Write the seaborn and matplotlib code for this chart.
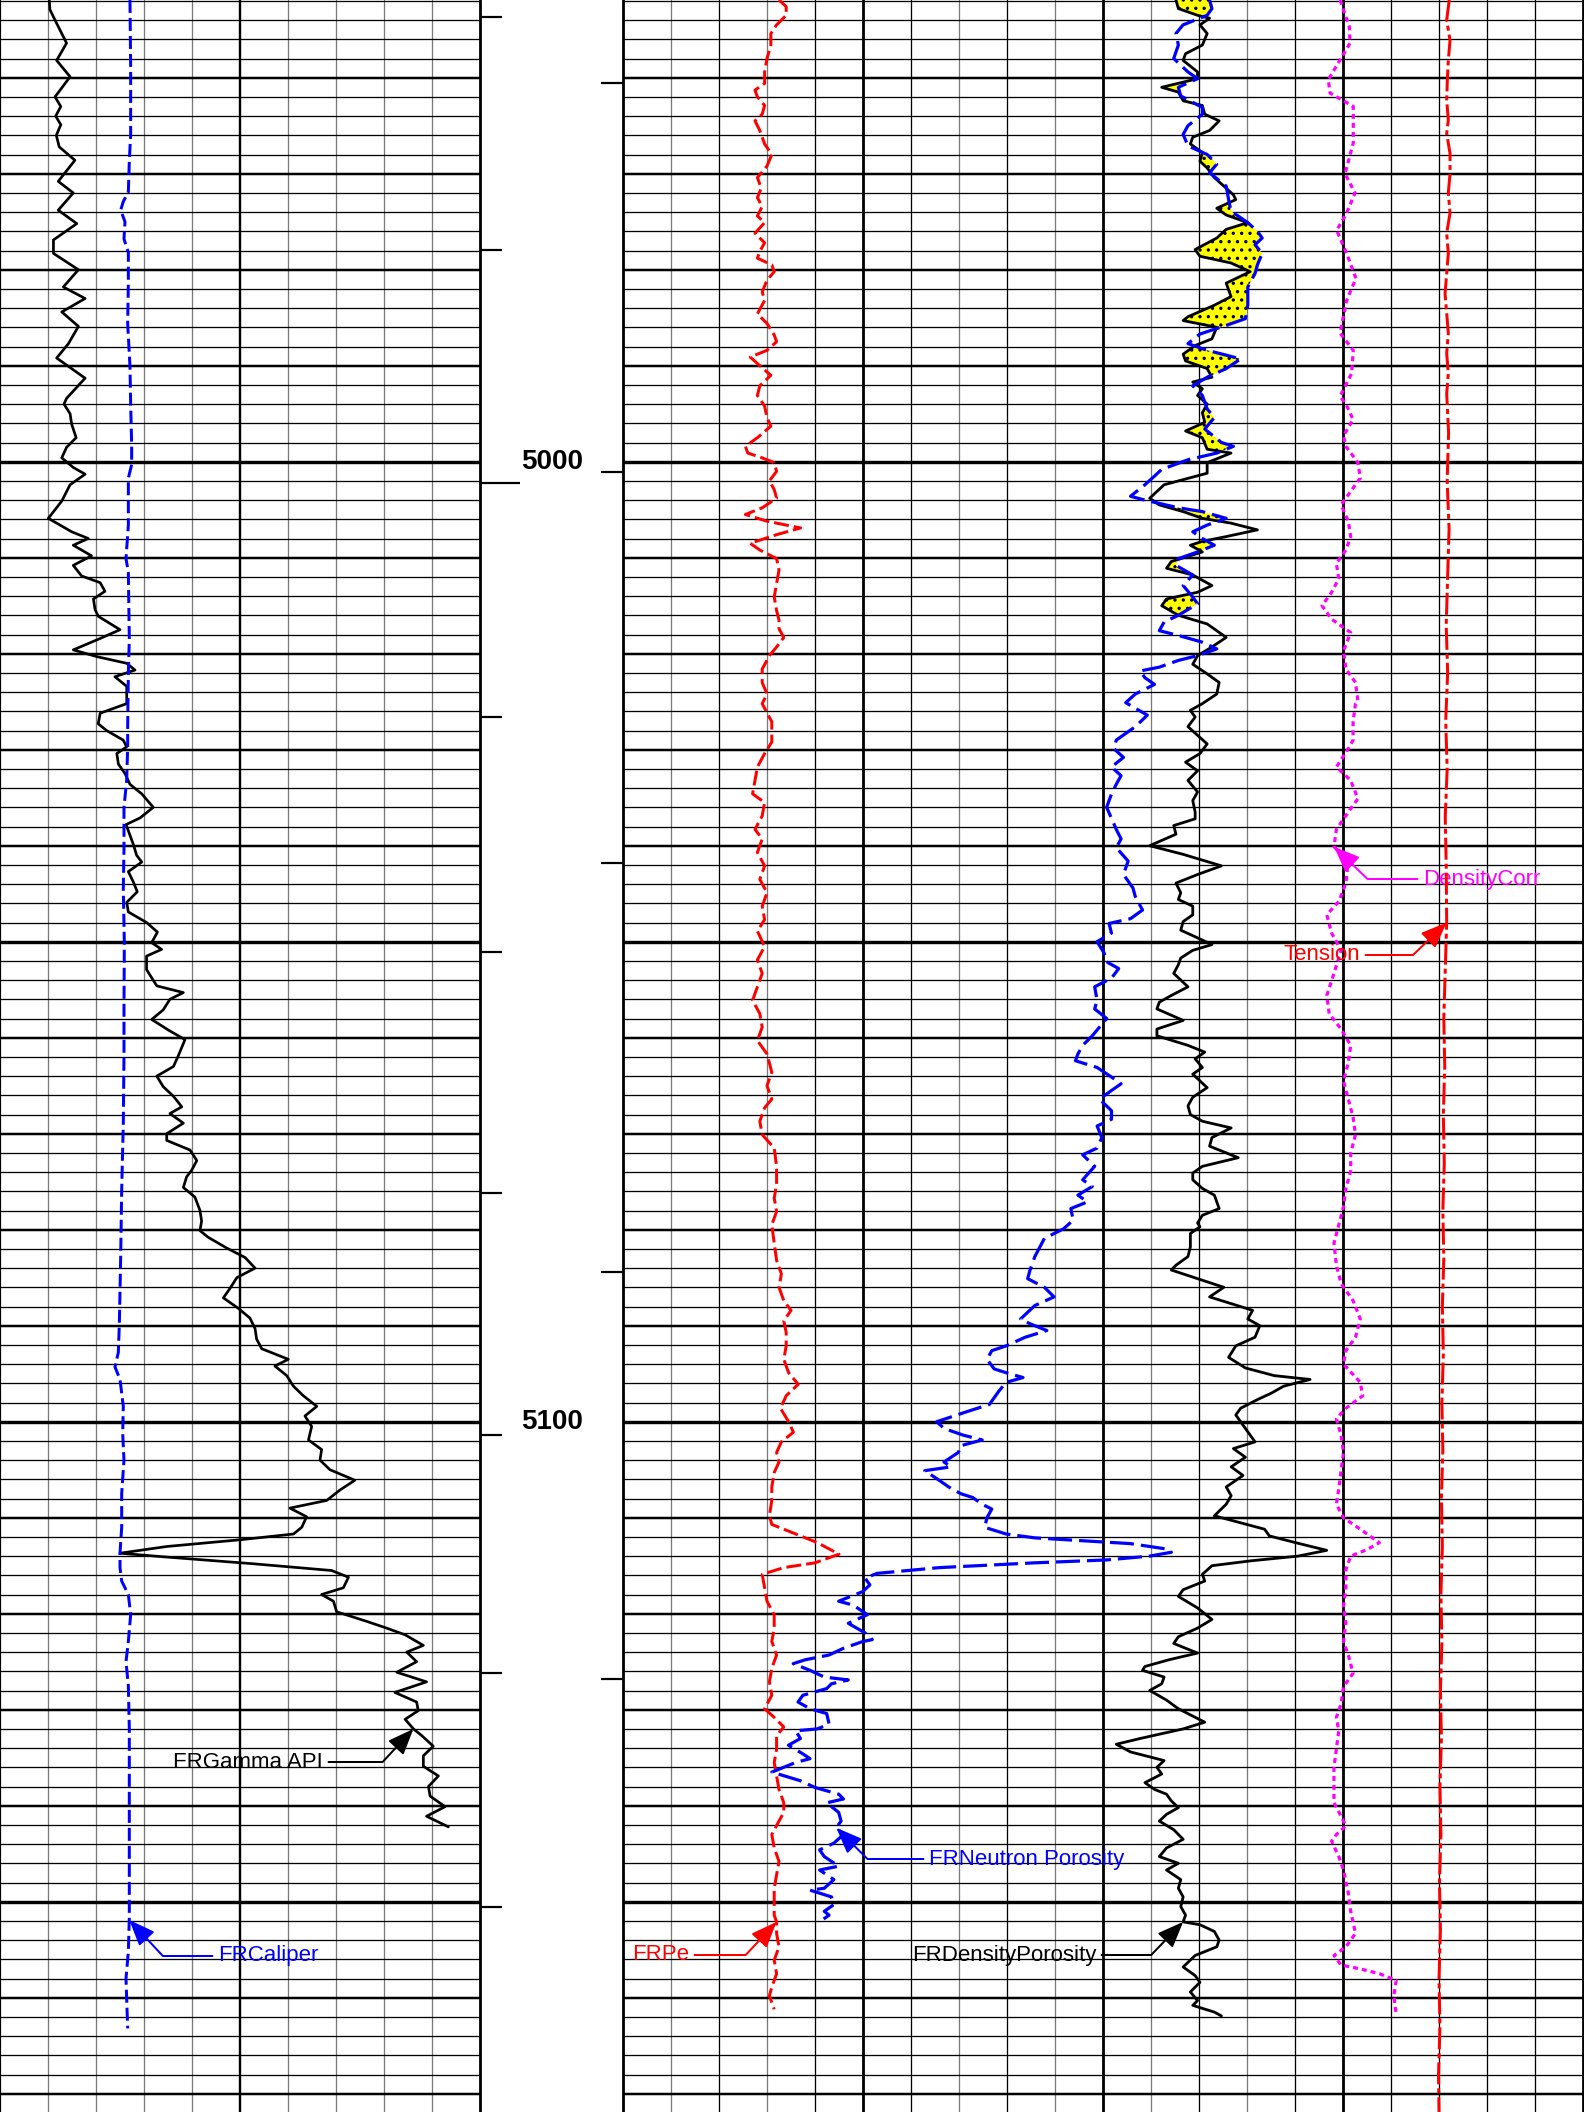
import numpy as np
import matplotlib
matplotlib.use("Agg")
import matplotlib.pyplot as plt
import seaborn as sns

plt.rcParams["font.family"] = ["Liberation Sans", "DejaVu Sans"]
plt.rcParams["lines.scale_dashes"] = False
plt.rcParams["lines.solid_joinstyle"] = "round"
plt.rcParams["lines.solid_capstyle"] = "round"
plt.rcParams["hatch.color"] = "black"
plt.rcParams["hatch.linewidth"] = 1.2

W, H, DPI = 1584, 2112, 100
PX = 72.0 / DPI                      # points per pixel
TOP, BOTTOM = 4951.906, 5171.906     # depth window (ft)

BLUE, RED, MAGENTA, YELLOW = "#0000FF", "#FF0000", "#FF00FF", "#FFFF00"

# ---------------------------------------------------------------- depth track
depth_labels = [5000, 5100]
left_marks = [4953.71, 4977.95, 5026.55, 5051.1, 5076.2, 5101.39, 5126.21, 5150.6]
long_marks = [5002.19]
right_marks = [4960.52, 5001.04, 5041.84, 5084.37, 5126.83]

# ---------------------------------------------------------------- gamma ray (API)
gr_depth = [4951.9, 4952.9, 4954.0, 4956.4, 4958.2, 4959.9, 4962.0, 4963.0, 4964.0, 4964.9,
            4966.0, 4967.2, 4968.6, 4970.8, 4972.0, 4973.8, 4975.2, 4976.9, 4978.3, 4980.0,
            4981.8, 4983.0, 4984.4, 4985.9, 4987.7, 4989.2, 4991.3, 4993.4, 4994.0, 4995.0,
            4996.1, 4997.5, 4998.5, 4999.6, 5000.6, 5001.3, 5002.4, 5004.1, 5005.9, 5007.3,
            5008.0, 5008.7, 5009.8, 5010.8, 5011.9, 5012.6, 5013.5, 5014.3, 5015.4, 5016.1,
            5017.5, 5018.5, 5019.6, 5020.3, 5021.0, 5021.7, 5022.4, 5023.4, 5025.2, 5026.2,
            5027.3, 5028.0, 5029.0, 5029.7, 5030.4, 5031.5, 5032.5, 5033.6, 5034.6, 5036.0,
            5037.1, 5037.8, 5038.9, 5039.9, 5041.0, 5041.7, 5042.7, 5043.8, 5044.8, 5045.9,
            5046.9, 5048.0, 5049.0, 5050.1, 5050.8, 5051.5, 5052.9, 5053.6, 5054.6, 5055.3,
            5056.0, 5057.1, 5058.1, 5059.2, 5060.2, 5061.0, 5061.9, 5063.0, 5064.0, 5065.1,
            5066.1, 5067.2, 5067.9, 5068.9, 5070.0, 5070.7, 5071.7, 5072.8, 5073.8, 5074.5,
            5075.6, 5076.6, 5078.0, 5079.1, 5080.1, 5080.8, 5081.9, 5082.9, 5084.0, 5085.0,
            5086.1, 5087.1, 5088.2, 5089.2, 5090.3, 5091.4, 5092.4, 5093.5, 5094.2, 5095.2,
            5096.3, 5097.3, 5098.4, 5099.4, 5100.5, 5101.9, 5102.9, 5104.0, 5105.0, 5106.1,
            5107.1, 5108.2, 5109.0, 5109.9, 5111.0, 5111.7, 5112.3, 5113.0, 5113.7, 5114.1,
            5114.8, 5115.5, 5116.2, 5117.3, 5118.0, 5118.7, 5119.8, 5120.8, 5121.5, 5122.2,
            5123.3, 5124.0, 5125.0, 5126.1, 5127.1, 5128.2, 5129.2, 5130.1, 5131.0, 5132.0,
            5132.7, 5133.8, 5134.8, 5135.9, 5136.9, 5138.0, 5139.0, 5140.1, 5141.1, 5142.2]
gr_api = [15.4, 15.6, 17.2, 20.8, 17.7, 21.9, 17.2, 19.0, 17.4, 19.0,
          17.6, 18.5, 23.4, 18.2, 22.9, 18.2, 24.0, 16.7, 16.7, 24.5,
          19.8, 26.6, 19.3, 24.5, 21.4, 17.7, 26.6, 20.8, 20.0, 21.9,
          22.4, 23.8, 20.8, 19.3, 22.9, 26.6, 21.9, 19.3, 15.1, 22.4,
          27.6, 22.9, 28.6, 22.9, 25.5, 31.3, 32.8, 29.2, 29.7, 30.7,
          37.5, 30.7, 22.9, 30.2, 39.6, 42.2, 35.9, 39.6, 39.6, 31.3,
          30.7, 33.3, 38.5, 39.6, 36.5, 37.0, 39.1, 40.6, 44.3, 47.9,
          43.8, 39.4, 40.6, 41.7, 42.7, 44.3, 40.1, 41.7, 42.9, 39.6,
          40.1, 45.8, 49.2, 47.4, 50.5, 45.8, 45.8, 47.1, 49.0, 57.3,
          53.1, 51.0, 47.4, 52.6, 57.8, 56.8, 55.7, 54.2, 49.0, 51.0,
          54.2, 56.8, 53.1, 57.3, 52.1, 52.1, 59.4, 61.5, 59.9, 58.3,
          57.3, 60.9, 62.5, 63.0, 62.5, 65.1, 70.8, 76.6, 79.7, 74.0,
          71.9, 69.8, 74.5, 78.1, 79.7, 80.2, 81.8, 90.1, 85.9, 89.6,
          91.7, 94.8, 99.0, 95.3, 97.4, 96.4, 100.5, 100.0, 103.1, 110.9,
          106.3, 102.1, 90.6, 95.8, 94.3, 91.7, 75.0, 52.1, 37.5, 52.1,
          79.2, 103.6, 108.9, 107.3, 100.5, 104.2, 105.2, 114.6, 120.8, 126.6,
          132.3, 127.1, 130.2, 124.0, 133.3, 123.4, 130.2, 130.7, 126.6, 129.2,
          131.8, 135.4, 132.3, 132.3, 137.0, 133.9, 134.4, 139.1, 133.3, 140.1]

# ---------------------------------------------------------------- caliper (in)
cal_depth = [4951.9, 4958.9, 4965.9, 4968.7, 4971.9, 4972.9, 4973.8, 4975.0, 4976.8, 4978.2,
             4981.4, 4985.6, 4990.1, 4994.0, 4998.2, 5000.3, 5001.7, 5006.6, 5010.1, 5011.5,
             5018.5, 5022.0, 5027.6, 5029.7, 5033.2, 5036.0, 5040.3, 5044.5, 5050.1, 5057.1,
             5061.9, 5068.9, 5075.9, 5082.9, 5089.9, 5092.8, 5094.3, 5095.6, 5098.4, 5101.2,
             5104.0, 5107.5, 5111.0, 5113.7, 5115.2, 5116.6, 5118.0, 5120.1, 5122.9, 5125.0,
             5127.5, 5132.0, 5139.0, 5146.1, 5151.7, 5155.2, 5158.0, 5160.1, 5163.2]
cal_in = [8.708, 8.722, 8.722, 8.694, 8.674, 8.569, 8.514, 8.604, 8.583, 8.674,
          8.674, 8.660, 8.708, 8.722, 8.743, 8.743, 8.674, 8.674, 8.625, 8.674,
          8.694, 8.674, 8.660, 8.660, 8.639, 8.583, 8.583, 8.569, 8.590, 8.583,
          8.583, 8.569, 8.535, 8.514, 8.486, 8.465, 8.396, 8.500, 8.569, 8.556,
          8.583, 8.535, 8.535, 8.500, 8.500, 8.535, 8.674, 8.722, 8.674, 8.625,
          8.674, 8.694, 8.694, 8.694, 8.694, 8.674, 8.625, 8.639, 8.660]

# ---------------------------------------------------------------- neutron porosity (%)
nph_depth = [4951.9, 4952.8, 4953.5, 4954.5, 4955.4, 4956.6, 4958.0, 4959.4, 4960.1, 4961.0,
             4961.9, 4963.1, 4963.8, 4965.0, 4965.9, 4967.1, 4968.0, 4969.0, 4969.9, 4971.3,
             4972.7, 4973.9, 4975.1, 4976.0, 4976.7, 4977.4, 4978.3, 4979.5, 4980.4, 4981.8,
             4983.7, 4985.1, 4985.8, 4986.7, 4987.7, 4988.4, 4988.9, 4989.3, 4990.3, 4991.2,
             4992.1, 4993.1, 4994.5, 4995.4, 4996.6, 4998.0, 4998.4, 4999.1, 4999.8, 5000.8,
             5001.5, 5002.4, 5003.6, 5004.0, 5004.8, 5005.2, 5005.9, 5006.6, 5007.3, 5008.0,
             5008.7, 5009.4, 5010.1, 5010.8, 5011.8, 5012.9, 5014.1, 5014.8, 5016.0, 5016.7,
             5017.6, 5018.1, 5018.8, 5019.5, 5020.2, 5020.7, 5021.4, 5021.8, 5022.5, 5023.2,
             5024.2, 5025.1, 5026.4, 5027.6, 5029.0, 5029.9, 5030.8, 5031.8, 5032.7, 5033.6,
             5034.6, 5036.0, 5038.3, 5039.3, 5040.2, 5041.6, 5043.0, 5044.4, 5045.3, 5046.7,
             5047.6, 5048.1, 5049.1, 5050.0, 5051.2, 5052.1, 5052.8, 5053.8, 5054.7, 5056.1,
             5057.0, 5058.0, 5058.9, 5059.8, 5060.8, 5061.7, 5062.4, 5063.1, 5064.1, 5064.8,
             5065.5, 5066.4, 5067.6, 5068.5, 5069.2, 5070.4, 5071.5, 5072.2, 5073.4, 5074.8,
             5075.5, 5076.4, 5077.1, 5077.8, 5079.0, 5079.9, 5080.9, 5082.8, 5084.2, 5085.1,
             5086.0, 5087.0, 5087.9, 5089.3, 5089.8, 5090.5, 5091.2, 5092.1, 5092.6, 5093.5,
             5094.5, 5094.9, 5095.4, 5095.9, 5096.8, 5098.2, 5099.0, 5100.0, 5100.7, 5101.4,
             5101.9, 5102.5, 5103.2, 5104.2, 5104.7, 5105.1, 5106.1, 5106.8, 5107.5, 5107.9,
             5108.6, 5109.1, 5110.0, 5111.0, 5111.7, 5112.1, 5112.4, 5112.7, 5113.3, 5113.6,
             5114.0, 5114.4, 5114.7, 5115.2, 5115.8, 5116.3, 5117.0, 5117.7, 5118.7, 5119.1,
             5120.1, 5121.0, 5122.0, 5122.7, 5122.9, 5123.6, 5124.3, 5124.8, 5125.2, 5125.9,
             5126.6, 5126.9, 5127.3, 5127.8, 5128.5, 5129.2, 5129.9, 5130.4, 5131.5, 5132.0,
             5132.2, 5133.0, 5133.7, 5134.6, 5135.1, 5135.5, 5136.5, 5137.4, 5138.1, 5138.8,
             5139.3, 5139.7, 5140.7, 5141.6, 5142.3, 5143.0, 5143.9, 5144.6, 5145.3, 5146.3,
             5146.7, 5147.7, 5148.6, 5148.8, 5149.5, 5150.3, 5151.0, 5151.4, 5152.1]
nph_pct = [8.34, 8.19, 8.49, 10.00, 10.44, 10.29, 10.58, 9.69, 9.09, 10.29,
           10.14, 8.79, 8.79, 9.69, 9.99, 9.69, 8.49, 7.89, 8.34, 7.30,
           7.15, 7.00, 5.95, 5.35, 5.05, 5.50, 5.05, 5.35, 5.50, 5.95,
           5.95, 6.10, 7.30, 8.94, 9.69, 8.49, 7.30, 6.40, 7.30, 8.49,
           9.39, 8.79, 8.49, 8.04, 8.64, 7.60, 6.85, 7.89, 9.69, 11.33,
           11.78, 12.38, 13.28, 12.38, 10.29, 8.79, 7.30, 8.49, 9.39, 8.79,
           8.04, 9.09, 10.29, 10.44, 9.39, 9.99, 9.39, 9.09, 10.29, 11.18,
           11.48, 10.29, 8.79, 7.89, 9.09, 10.29, 11.48, 12.68, 12.38, 11.78,
           12.98, 13.58, 12.23, 12.98, 14.17, 14.32, 13.72, 14.47, 13.87, 14.17,
           14.47, 14.77, 14.17, 13.87, 14.17, 13.43, 13.72, 13.13, 12.98, 12.53,
           13.28, 14.62, 14.47, 15.37, 14.92, 14.77, 14.02, 14.47, 15.52, 15.37,
           15.52, 14.77, 15.22, 15.67, 16.27, 16.57, 16.72, 15.37, 14.47, 13.87,
           14.47, 15.22, 14.47, 14.47, 15.37, 15.07, 15.37, 16.27, 15.52, 16.27,
           15.67, 16.57, 15.97, 17.01, 16.86, 17.46, 18.66, 19.26, 19.56, 19.71,
           18.66, 18.06, 19.26, 20.15, 19.56, 18.51, 19.86, 21.05, 21.95, 22.25,
           21.80, 21.05, 20.00, 21.05, 21.50, 22.10, 23.59, 25.39, 24.94, 23.74,
           22.55, 23.89, 24.04, 24.94, 24.49, 26.14, 25.24, 24.64, 23.89, 23.14,
           22.55, 21.95, 22.25, 22.40, 21.05, 19.26, 16.27, 13.28, 10.88, 10.73,
           12.08, 14.77, 19.26, 25.24, 29.13, 29.87, 29.57, 30.02, 31.52, 30.62,
           29.72, 30.92, 29.87, 29.42, 30.02, 31.22, 32.12, 33.61, 34.36, 33.31,
           32.42, 30.92, 31.97, 32.27, 33.76, 34.06, 33.31, 32.27, 32.12, 32.86,
           34.21, 33.91, 34.66, 33.76, 33.31, 34.21, 35.70, 33.91, 33.01, 31.52,
           31.22, 32.27, 31.52, 31.37, 31.67, 31.22, 31.82, 32.71, 32.42, 31.52,
           32.71, 31.82, 32.42, 33.31, 31.97, 31.82, 32.42, 32.12, 32.71]

# ---------------------------------------------------------------- density porosity (%)
dph_depth = [4951.9, 4952.8, 4953.5, 4953.8, 4954.5, 4955.4, 4956.6, 4957.5, 4958.2, 4959.4,
             4960.1, 4961.0, 4961.5, 4962.4, 4962.9, 4963.8, 4964.5, 4965.5, 4966.2, 4966.9,
             4967.8, 4968.7, 4969.4, 4970.4, 4971.3, 4972.2, 4972.7, 4973.6, 4974.3, 4975.1,
             4975.8, 4976.7, 4977.9, 4978.6, 4979.3, 4980.2, 4981.4, 4982.8, 4983.7, 4984.9,
             4985.3, 4986.0, 4987.2, 4987.9, 4988.8, 4989.5, 4990.3, 4991.2, 4991.7, 4992.4,
             4993.1, 4994.0, 4994.9, 4995.9, 4996.8, 4997.5, 4998.7, 4999.1, 5000.1, 5001.2,
             5002.4, 5003.8, 5004.5, 5005.2, 5005.9, 5006.4, 5007.1, 5007.8, 5008.3, 5008.7,
             5009.4, 5010.4, 5011.1, 5011.8, 5012.9, 5013.6, 5014.3, 5015.0, 5016.0, 5016.9,
             5018.3, 5019.3, 5020.2, 5021.1, 5022.1, 5023.0, 5024.2, 5025.2, 5025.9, 5026.6,
             5027.6, 5028.5, 5029.4, 5030.4, 5031.3, 5032.2, 5033.2, 5034.4, 5035.3, 5036.5,
             5037.2, 5037.9, 5038.8, 5040.0, 5040.9, 5042.1, 5043.0, 5043.9, 5044.9, 5045.6,
             5046.3, 5047.2, 5047.9, 5048.8, 5049.6, 5050.3, 5050.9, 5051.7, 5052.4, 5053.3,
             5054.7, 5055.6, 5056.3, 5057.0, 5058.2, 5059.1, 5059.8, 5060.8, 5061.5, 5062.2,
             5063.1, 5063.8, 5065.2, 5066.2, 5067.1, 5068.0, 5068.7, 5069.4, 5070.4, 5071.3,
             5072.5, 5073.4, 5074.1, 5074.8, 5075.7, 5076.4, 5077.8, 5078.5, 5079.3, 5079.7,
             5080.4, 5081.8, 5082.8, 5083.7, 5084.2, 5085.1, 5086.0, 5087.0, 5087.7, 5088.4,
             5089.3, 5090.0, 5091.2, 5092.1, 5093.3, 5094.4, 5095.2, 5095.6, 5096.3, 5097.0,
             5097.7, 5098.6, 5099.3, 5100.7, 5102.1, 5102.8, 5103.7, 5104.7, 5105.6, 5106.8,
             5107.7, 5108.6, 5109.8, 5111.2, 5111.9, 5112.6, 5113.4, 5114.0, 5114.5, 5115.0,
             5115.9, 5116.6, 5117.5, 5118.2, 5119.4, 5120.6, 5121.5, 5122.4, 5123.1, 5124.1,
             5124.8, 5125.5, 5125.9, 5126.6, 5127.3, 5128.0, 5129.0, 5129.9, 5131.3, 5132.0,
             5133.0, 5133.6, 5134.4, 5135.3, 5136.0, 5136.7, 5137.6, 5138.3, 5138.8, 5139.5,
             5140.2, 5140.9, 5141.6, 5142.5, 5143.5, 5144.4, 5145.3, 5146.0, 5146.7, 5147.7,
             5148.6, 5149.5, 5150.5, 5151.4, 5152.1, 5152.4, 5153.1, 5154.0, 5154.7, 5155.6,
             5156.8, 5157.7, 5158.4, 5159.4, 5160.3, 5160.8, 5161.5, 5161.9]
dph_pct = [10.44, 10.29, 9.09, 8.34, 8.94, 8.49, 8.79, 9.84, 9.99, 9.09,
           9.09, 11.33, 10.29, 9.99, 8.79, 8.64, 7.74, 8.34, 9.39, 9.54,
           8.79, 8.94, 8.49, 8.04, 7.45, 6.85, 6.70, 7.89, 7.30, 5.95,
           7.30, 7.89, 9.24, 8.94, 7.00, 5.80, 7.30, 7.00, 8.04, 9.69,
           9.99, 7.89, 8.19, 9.24, 9.99, 9.84, 8.49, 8.19, 9.39, 8.79,
           9.09, 8.49, 8.79, 8.64, 9.84, 8.79, 8.49, 7.00, 8.49, 8.49,
           11.18, 12.08, 11.48, 9.99, 8.79, 7.00, 5.35, 7.30, 8.79, 9.54,
           8.79, 10.73, 11.03, 9.39, 8.19, 9.09, 11.03, 11.33, 10.29, 8.49,
           7.30, 8.19, 9.09, 9.39, 8.49, 7.74, 7.89, 8.79, 9.54, 9.24,
           9.69, 9.09, 8.49, 8.94, 9.84, 9.09, 9.69, 9.09, 9.39, 9.24,
           9.24, 10.58, 10.44, 12.08, 9.99, 7.60, 9.09, 10.44, 10.14, 10.29,
           9.39, 9.39, 9.99, 10.14, 9.09, 8.19, 9.39, 10.14, 10.29, 10.58,
           9.69, 10.73, 11.48, 11.63, 9.99, 11.63, 11.63, 9.69, 8.64, 9.24,
           8.79, 9.39, 8.49, 9.39, 9.69, 9.54, 8.79, 6.99, 8.19, 8.34,
           6.55, 8.79, 9.39, 9.39, 8.79, 8.04, 7.74, 8.79, 9.09, 8.94,
           9.54, 9.54, 9.69, 10.44, 10.73, 9.09, 7.45, 8.34, 6.99, 5.65,
           5.95, 5.20, 5.50, 6.70, 7.15, 6.10, 4.30, 2.06, 3.71, 4.45,
           5.35, 6.40, 6.70, 6.10, 5.50, 6.85, 6.10, 6.99, 6.25, 7.30,
           6.99, 7.30, 8.04, 4.90, 4.60, 2.96, 1.02, 2.81, 5.80, 8.19,
           8.79, 8.64, 9.99, 10.29, 9.09, 8.19, 9.09, 10.29, 10.58, 9.09,
           10.88, 12.38, 12.53, 11.18, 11.33, 12.08, 11.03, 10.29, 8.64, 9.99,
           12.68, 14.17, 13.28, 11.18, 11.63, 11.33, 12.38, 11.78, 11.03, 10.73,
           10.29, 11.03, 11.48, 10.58, 9.99, 11.03, 11.48, 10.29, 11.03, 10.14,
           10.29, 9.99, 10.14, 9.84, 9.99, 8.94, 8.04, 7.74, 7.89, 9.24,
           9.99, 9.24, 8.94, 9.54, 9.09, 9.39, 8.04, 7.60]

# ---------------------------------------------------------------- photoelectric factor (b/e)
pe_depth = [4951.9, 4952.6, 4953.5, 4954.5, 4955.4, 4956.6, 4958.0, 4959.4, 4960.6, 4961.3,
            4962.0, 4962.9, 4963.8, 4964.5, 4965.5, 4966.9, 4968.0, 4969.2, 4970.4, 4971.5,
            4972.5, 4973.4, 4974.4, 4975.1, 4976.2, 4977.2, 4978.1, 4978.8, 4979.5, 4980.2,
            4981.1, 4982.3, 4983.2, 4984.6, 4985.6, 4986.8, 4987.5, 4988.4, 4989.1, 4990.0,
            4991.0, 4992.1, 4993.1, 4994.2, 4995.4, 4996.3, 4997.5, 4998.4, 4999.1, 4999.6,
            5000.1, 5001.0, 5002.0, 5002.9, 5003.8, 5004.8, 5005.5, 5006.2, 5006.9, 5007.6,
            5008.5, 5009.2, 5010.1, 5011.3, 5012.7, 5014.1, 5015.5, 5016.5, 5017.4, 5018.3,
            5019.3, 5020.2, 5021.6, 5023.0, 5024.2, 5025.2, 5027.1, 5029.2, 5030.4, 5031.8,
            5033.2, 5034.6, 5035.5, 5036.9, 5038.3, 5039.3, 5040.7, 5042.1, 5043.5, 5044.9,
            5046.3, 5047.7, 5048.9, 5050.5, 5051.9, 5053.3, 5054.7, 5056.1, 5057.5, 5058.9,
            5060.3, 5061.7, 5063.6, 5065.0, 5066.4, 5067.3, 5068.7, 5070.1, 5071.5, 5073.4,
            5075.3, 5076.7, 5078.1, 5079.5, 5081.4, 5083.2, 5084.6, 5086.0, 5087.4, 5088.4,
            5089.5, 5090.7, 5092.1, 5093.5, 5094.9, 5096.1, 5097.3, 5098.6, 5100.0, 5101.1,
            5102.1, 5103.2, 5104.2, 5105.3, 5106.8, 5108.2, 5109.8, 5110.7, 5111.7, 5112.6,
            5113.8, 5114.7, 5115.2, 5115.9, 5117.3, 5118.7, 5120.1, 5121.5, 5122.9, 5124.3,
            5125.7, 5127.1, 5128.5, 5129.9, 5130.8, 5131.8, 5132.7, 5134.1, 5135.5, 5136.9,
            5138.3, 5139.7, 5140.7, 5141.6, 5143.0, 5144.4, 5145.8, 5147.2, 5148.6, 5150.0,
            5151.4, 5152.1, 5153.3, 5154.7, 5156.1, 5157.5, 5158.9, 5159.8, 5161.2]
pe_val = [3.25, 3.40, 3.40, 3.20, 3.08, 3.08, 3.00, 2.95, 2.95, 2.75,
          2.80, 2.95, 2.90, 2.75, 2.85, 2.95, 3.10, 3.00, 2.80, 2.88,
          2.80, 2.90, 2.80, 2.95, 2.75, 2.95, 2.85, 2.80, 3.10, 3.15,
          3.00, 2.90, 2.95, 2.80, 3.00, 3.15, 3.20, 3.00, 2.65, 2.85,
          3.08, 2.85, 2.80, 2.95, 3.00, 3.08, 2.80, 2.55, 2.60, 2.90,
          3.15, 3.20, 3.05, 3.15, 3.20, 2.90, 2.55, 3.00, 3.70, 3.20,
          2.65, 2.85, 3.20, 3.25, 3.20, 3.15, 3.20, 3.25, 3.25, 3.35,
          3.20, 3.05, 2.90, 2.90, 3.00, 2.90, 3.10, 3.10, 2.95, 2.80,
          2.75, 2.70, 2.95, 2.90, 2.75, 2.90, 2.80, 2.95, 2.85, 3.00,
          2.90, 2.95, 2.80, 2.95, 2.80, 2.90, 2.80, 2.70, 2.85, 2.90,
          2.80, 3.00, 3.10, 3.00, 3.10, 2.95, 2.85, 2.90, 3.15, 3.20,
          3.20, 3.15, 3.20, 3.10, 3.15, 3.20, 3.30, 3.25, 3.35, 3.50,
          3.35, 3.40, 3.40, 3.35, 3.45, 3.65, 3.40, 3.28, 3.45, 3.55,
          3.30, 3.20, 3.25, 3.15, 3.10, 3.10, 3.05, 3.10, 3.60, 4.05,
          4.50, 4.00, 3.35, 2.90, 2.95, 3.00, 3.15, 3.15, 3.10, 3.20,
          3.10, 3.05, 3.10, 2.95, 3.15, 3.35, 3.20, 3.20, 3.15, 3.20,
          3.25, 3.35, 3.35, 3.25, 3.10, 3.15, 3.25, 3.20, 3.15, 3.15,
          3.15, 3.20, 3.20, 3.25, 3.15, 3.20, 3.10, 3.05, 3.15]

# ---------------------------------------------------------------- density correction (g/cc)
drho_depth = [4951.9, 4954.7, 4956.4, 4960.2, 4961.6, 4963.0, 4966.8, 4970.0, 4972.0, 4974.1,
              4975.9, 4978.3, 4980.9, 4983.2, 4986.6, 4988.4, 4990.8, 4993.2, 4994.0, 4995.6,
              4997.3, 4998.4, 5000.1, 5001.7, 5003.1, 5004.5, 5006.2, 5007.8, 5009.2, 5010.6,
              5012.2, 5013.6, 5015.0, 5016.4, 5017.8, 5019.7, 5021.6, 5023.0, 5024.9, 5025.2,
              5027.1, 5029.0, 5029.9, 5031.8, 5033.2, 5035.1, 5036.5, 5038.3, 5040.1, 5041.6,
              5043.9, 5045.8, 5047.2, 5049.1, 5050.9, 5053.3, 5055.6, 5057.5, 5059.1, 5060.8,
              5062.6, 5064.5, 5066.4, 5068.3, 5070.1, 5072.0, 5073.9, 5075.7, 5077.6, 5079.5,
              5081.4, 5083.7, 5085.6, 5087.4, 5089.3, 5091.2, 5092.6, 5094.0, 5095.9, 5097.3,
              5098.6, 5099.7, 5101.4, 5103.2, 5105.1, 5107.0, 5108.6, 5110.0, 5111.2, 5112.6,
              5113.3, 5114.0, 5115.4, 5117.3, 5119.2, 5121.0, 5122.9, 5124.3, 5126.2, 5127.6,
              5129.4, 5130.8, 5132.2, 5134.1, 5136.0, 5137.9, 5139.7, 5141.1, 5142.1, 5143.0,
              5143.7, 5145.3, 5146.7, 5149.1, 5151.0, 5153.3, 5154.7, 5155.6, 5156.6, 5157.0,
              5157.5, 5158.2, 5159.8, 5161.7]
drho_val = [-0.0031, 0.0066, 0.0073, -0.0153, -0.0135, 0.0107, 0.0107, 0.0021, 0.0125, 0.0038,
            -0.0066, 0.0038, 0.0135, 0.0038, -0.0031, 0.0107, 0.0090, -0.0031, 0.0030, 0.0105,
            0.0005, 0.0030, 0.0155, 0.0180, 0.0080, -0.0020, 0.0055, 0.0080, 0.0030, -0.0069,
            -0.0044, -0.0119, -0.0219, -0.0119, 0.0080, 0.0005, 0.0030, 0.0130, 0.0155, 0.0130,
            0.0105, 0.0105, 0.0055, -0.0069, 0.0080, 0.0155, 0.0055, -0.0069, -0.0094, 0.0055,
            0.0030, -0.0044, -0.0169, -0.0119, -0.0020, -0.0094, -0.0169, -0.0144, -0.0020, 0.0080,
            0.0055, 0.0005, 0.0055, 0.0105, 0.0130, 0.0080, 0.0080, 0.0030, 0.0005, -0.0044,
            -0.0094, -0.0069, -0.0020, 0.0105, 0.0180, 0.0130, 0.0030, 0.0005, 0.0180, 0.0205,
            0.0030, -0.0069, -0.0020, 0.0005, -0.0020, -0.0044, -0.0069, 0.0005, 0.0180, 0.0379,
            0.0255, 0.0080, 0.0030, 0.0030, 0.0005, 0.0030, 0.0005, 0.0055, 0.0105, 0.0005,
            -0.0020, -0.0069, -0.0044, -0.0069, -0.0094, -0.0094, -0.0094, -0.0020, 0.0030, -0.0069,
            -0.0119, -0.0044, 0.0005, 0.0055, 0.0080, 0.0130, 0.0030, -0.0094, -0.0020, 0.0180,
            0.0379, 0.0554, 0.0529, 0.0554]

# ---------------------------------------------------------------- cable tension (lbf)
ten_depth = [4951.9, 4954.0, 4956.1, 4958.2, 4960.2, 4962.3, 4964.4, 4965.8, 4967.9, 4970.0,
             4972.0, 4974.1, 4976.2, 4978.3, 4980.4, 4982.5, 4984.5, 4986.6, 4988.7, 4990.8,
             4992.9, 4997.0, 5002.0, 5007.0, 5012.0, 5017.0, 5022.0, 5027.0, 5032.0, 5037.0,
             5042.0, 5048.0, 5053.0, 5058.0, 5063.0, 5068.0, 5073.0, 5078.0, 5083.0, 5088.0,
             5093.0, 5098.0, 5103.0, 5108.0, 5113.0, 5118.0, 5123.0, 5128.0, 5133.0, 5138.0,
             5143.0, 5148.0, 5153.0, 5158.0, 5163.0, 5168.0, 5171.9]
ten_lbf = [8607, 8580, 8615, 8597, 8587, 8580, 8597, 8580, 8615, 8615,
           8597, 8615, 8580, 8597, 8580, 8563, 8580, 8597, 8580, 8597,
           8580, 8600, 8585, 8605, 8590, 8575, 8590, 8570, 8585, 8565,
           8575, 8580, 8565, 8550, 8560, 8545, 8555, 8540, 8550, 8535,
           8545, 8530, 8540, 8525, 8535, 8520, 8530, 8515, 8525, 8510,
           8520, 8505, 8515, 8500, 8510, 8495, 8500]


# ================================================================= figure
fig = plt.figure(figsize=(W / DPI, H / DPI), dpi=DPI)
fig.patch.set_facecolor("white")


def track(x0, x1, xlim):
    ax = fig.add_axes([x0 / W, 0.0, (x1 - x0) / W, 1.0])
    ax.set_xlim(*xlim)
    ax.set_ylim(BOTTOM, TOP)
    ax.set_axis_off()
    return ax


def curve(ax, values, depth, color, lw_px, dash_px=None, z=4):
    sns.lineplot(x=values, y=depth, sort=False, estimator=None, ax=ax,
                 color=color, linewidth=lw_px * PX, legend=False, zorder=z)
    line = ax.lines[-1]
    line.set_solid_joinstyle("round")
    line.set_dash_joinstyle("round")
    line.set_dash_capstyle("butt")
    if dash_px is not None:
        line.set_linestyle((0, tuple(d * PX for d in dash_px)))
    return line


def depth_grid(ax):
    for d in range(4952, 5172, 2):
        if d % 50 == 0:
            lw = 3.4
        elif d % 10 == 0:
            lw = 2.5
        else:
            lw = 1.3
        ax.axhline(d, color="black", lw=lw * PX, zorder=1)


# ---- left track: gamma ray 0-150 API, caliper 6-16 in
ax_gr = track(0, 480, (0, 150))
for i in range(11):
    x = 15 * i
    if i == 0:
        ax_gr.axvline(x, color="black", lw=1.2 * PX, zorder=1, clip_on=False)
    elif i == 5:
        ax_gr.axvline(x, color="black", lw=2.4 * PX, zorder=1)
    elif i == 10:
        ax_gr.axvline(x, color="black", lw=2.8 * PX, zorder=1, clip_on=False)
    else:
        ax_gr.axvline(x, color="#7a7a7a", lw=1.3 * PX, zorder=1)
depth_grid(ax_gr)
ax_cal = track(0, 480, (6, 16))

curve(ax_gr, gr_api, gr_depth, "black", 2.7)
curve(ax_cal, cal_in, cal_depth, BLUE, 3.0, dash_px=(13, 5))

# ---- depth track
ax_dep = track(480, 623, (0, 143))
ax_dep.hlines(left_marks, 0, 22, colors="black", lw=2.2 * PX)
ax_dep.hlines(long_marks, 0, 40, colors="black", lw=2.2 * PX)
ax_dep.hlines(right_marks, 121, 143, colors="black", lw=2.2 * PX)
for d in depth_labels:
    ax_dep.text(72, d, str(d), ha="center", va="center", fontsize=20,
                fontweight="bold", color="black")

# ---- right track: porosity 45 -> -15 %, Pe 0-20, DRHO -0.75..0.25, tension 0-10000
ax_phi_grid = track(623, 1583, (45, -15))
for i in range(21):
    x = 45 - 3 * i
    if i % 5 == 0:
        ax_phi_grid.axvline(x, color="black", lw=2.8 * PX, zorder=1,
                            clip_on=(0 < i < 20))
    elif i % 2 == 0 or i > 15:
        ax_phi_grid.axvline(x, color="black", lw=1.3 * PX, zorder=1)
    else:
        ax_phi_grid.axvline(x, color="#7a7a7a", lw=1.3 * PX, zorder=1)
depth_grid(ax_phi_grid)

ax_pe = track(623, 1583, (0, 20))
ax_phi = track(623, 1583, (45, -15))
ax_drho = track(623, 1583, (-0.75, 0.25))
ax_ten = track(623, 1583, (0, 10000))

# gas crossover shading: neutron reading below density porosity
d_lo = max(nph_depth[0], dph_depth[0])
d_hi = min(nph_depth[-1], dph_depth[-1])
dd = np.linspace(d_lo, d_hi, 8000)
nph_i = np.interp(dd, nph_depth, nph_pct)
dph_i = np.interp(dd, dph_depth, dph_pct)
ax_phi.fill_betweenx(dd, nph_i, dph_i, where=nph_i < dph_i, interpolate=True,
                     facecolor=YELLOW, edgecolor="black", hatch="..",
                     linewidth=0, zorder=2)

curve(ax_pe, pe_val, pe_depth, RED, 3.0, dash_px=(15, 5))
curve(ax_phi, dph_pct, dph_depth, "black", 2.8)
curve(ax_phi, nph_pct, nph_depth, BLUE, 3.2, dash_px=(24, 7))
curve(ax_drho, drho_val, drho_depth, MAGENTA, 3.2, dash_px=(5, 4))
curve(ax_ten, ten_lbf, ten_depth, RED, 3.0, dash_px=(22, 4, 5, 4))


# ---- curve callouts
def callout(ax, label, tip_depth, depth, values, text_xy, side, angle_b, color):
    xv = float(np.interp(tip_depth, depth, values))
    tx, ty = text_xy
    ax.annotate(label, xy=(xv, tip_depth), xycoords="data",
                xytext=(tx, H - ty), textcoords="figure pixels",
                ha=side, va="center", fontsize=16, color=color, zorder=8,
                arrowprops=dict(arrowstyle="-|>,head_length=1.0,head_width=0.4",
                                color=color, lw=2.0 * PX, shrinkA=2, shrinkB=0,
                                relpos=(1, 0.5) if side == "right" else (0, 0.5),
                                connectionstyle=f"angle,angleA=0,angleB={angle_b},rad=0"))


callout(ax_gr, "FRGamma API", 5132.0, gr_depth, gr_api, (323, 1762), "right", 47, "black")
callout(ax_cal, "FRCaliper", 5151.9, cal_depth, cal_in, (218, 1956), "left", 133, BLUE)
callout(ax_pe, "FRPe", 5152.1, pe_depth, pe_val, (689, 1955), "right", 47, RED)
callout(ax_phi, "FRDensityPorosity", 5152.1, dph_depth, dph_pct, (1096, 1955), "right", 46, "black")
callout(ax_phi, "FRNeutron Porosity", 5142.3, nph_depth, nph_pct, (929, 1859), "left", 135, BLUE)
callout(ax_drho, "DensityCorr", 5040.1, drho_depth, drho_val, (1423, 879), "left", 136, MAGENTA)
callout(ax_ten, "Tension", 5048.0, ten_depth, ten_lbf, (1360, 955), "right", 44, RED)

fig.savefig("out.png", dpi=DPI, facecolor="white")
